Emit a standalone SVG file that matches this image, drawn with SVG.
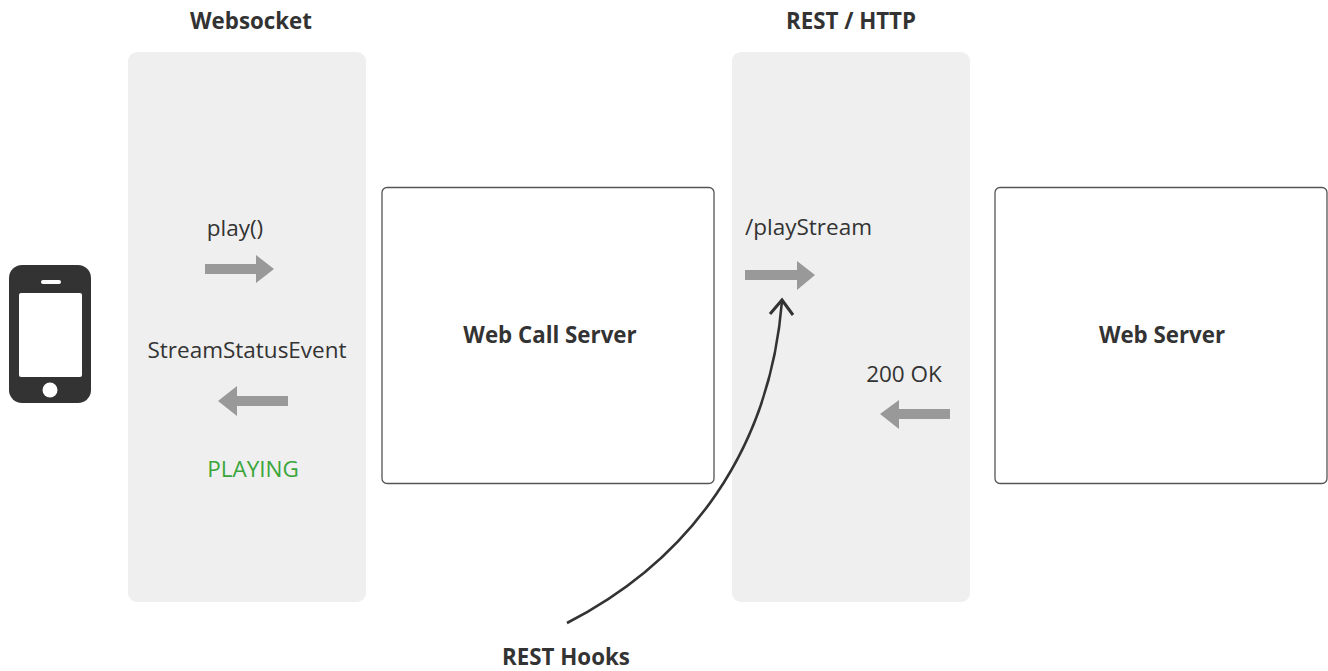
<svg xmlns="http://www.w3.org/2000/svg" width="1328" height="671" viewBox="0 0 1328 671">
<style>
.panel{fill:#efefef}
.box{fill:#fff;stroke:#555;stroke-width:1.3}
.t{font-family:"Open Sans","Noto Sans",sans-serif;fill:#333;font-size:22.5px}
.b{font-family:"Open Sans","Noto Sans",sans-serif;fill:#333;font-size:22.3px;font-weight:bold}
.arr{fill:#999}
</style>
<rect width="1328" height="671" fill="#fff"/>
<g id="websocket-panel">
<rect class="panel" x="128" y="52" width="238" height="550" rx="9"/>
<text class="b" x="251" y="29" text-anchor="middle">Websocket</text>
</g>
<g id="rest-panel">
<rect class="panel" x="732" y="52" width="238" height="550" rx="9"/>
<text class="b" x="851" y="29" text-anchor="middle">REST / HTTP</text>
</g>
<g id="phone">
<rect x="9" y="265" width="82" height="138" rx="13" fill="#333"/>
<rect x="19" y="293" width="63" height="84" rx="2" fill="#fff"/>
<rect x="41" y="280" width="20" height="4" rx="2" fill="#fff"/>
<circle cx="50" cy="390" r="7.5" fill="#fff"/>
</g>
<g id="web-call-server">
<rect class="box" x="382" y="187.5" width="332" height="296" rx="5"/>
<text class="b" x="550" y="343" text-anchor="middle">Web Call Server</text>
</g>
<g id="web-server">
<rect class="box" x="995" y="187.5" width="332" height="296" rx="5"/>
<text class="b" x="1162" y="343" text-anchor="middle">Web Server</text>
</g>
<g id="connectors">
<polygon class="arr" points="205,264 256,264 256,255 274,269 256,283 256,274 205,274"/>
<polygon class="arr" points="288,396 237,396 237,386 218,401 237,416 237,406 288,406"/>
<polygon class="arr" points="745,270 797,270 797,261 815,275 797,290 797,280 745,280"/>
<polygon class="arr" points="950,409 899,409 899,400 880,414 899,429 899,419 950,419"/>
<path d="M567,623 C690,560 770,450 782,301" fill="none" stroke="#333" stroke-width="2.6"/>
<polyline points="770,314 782,300 793,315" fill="none" stroke="#333" stroke-width="3"/>
</g>
<g id="labels">
<text class="t" x="235" y="236" text-anchor="middle">play()</text>
<text class="t" x="247" y="358" text-anchor="middle">StreamStatusEvent</text>
<text class="t" x="253" y="477" text-anchor="middle" style="fill:#3aa63a">PLAYING</text>
<text class="t" x="745" y="235">/playStream</text>
<text class="t" x="904" y="382" text-anchor="middle">200 OK</text>
<text class="b" x="566" y="665" text-anchor="middle">REST Hooks</text>
</g>
</svg>
